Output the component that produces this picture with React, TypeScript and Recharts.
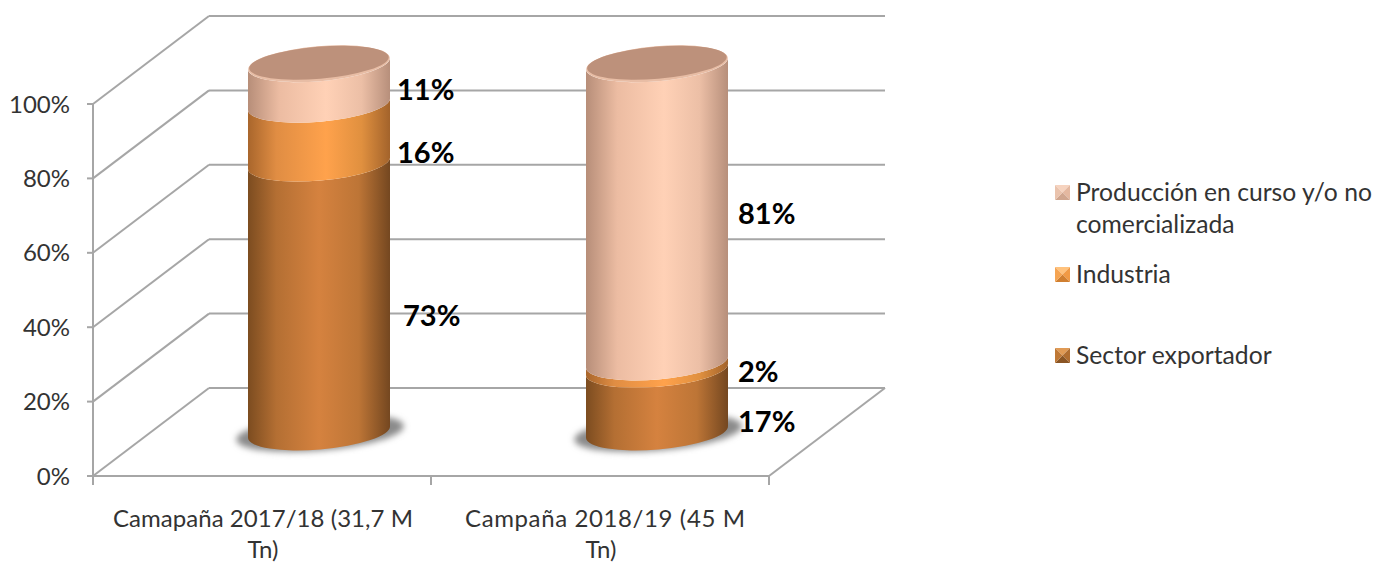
import {
  BarChart,
  Bar,
  XAxis,
  YAxis,
  CartesianGrid,
  Legend,
  LabelList,
} from "recharts";

const categories = ["Camapaña 2017/18 (31,7 M Tn)", "Campaña 2018/19 (45 M Tn)"];
const exportador = [73, 17];
const industria = [16, 2];
const produccion = [11, 81];
const yTicks = [0, 20, 40, 60, 80, 100];

const data = categories.map((name, i) => ({
  name,
  exportador: exportador[i],
  industria: industria[i],
  produccion: produccion[i],
}));

const W = 1389;
const H = 563;
const xAxisHeight = 60;
const margin = { top: 104, right: 620, bottom: 87 - xAxisHeight, left: 33 };
const plotBottom = H - 87;

// fake 3d: how far the back wall sits from the front plane
const wallX = 116;
const wallY = 88;
const depthX = 57;
const depthY = 44;
const cylScale = 0.99;
const tiltY = 6;
const ry = 17.5;

const axisGrey = "#a6a6a6";
const textGrey = "#333333";
const fontFamily = "Lato, sans-serif";

const cylY = (py: number) => plotBottom - depthY - (plotBottom - py) * cylScale;

function GridLine(props: any) {
  const { x1, y1, x2, y2 } = props;
  const isFloor = Math.abs(y1 - plotBottom) < 1;
  return (
    <g stroke={axisGrey} strokeWidth={2} fill="none">
      <line x1={x1 + wallX} y1={y1 - wallY} x2={x2 + wallX} y2={y2 - wallY} />
      <line x1={x1} y1={y1} x2={x1 + wallX} y2={y1 - wallY} />
      {isFloor && <line x1={x2} y1={y2} x2={x2 + wallX} y2={y2 - wallY} />}
    </g>
  );
}

function cylPath(cx: number, half: number, top: number, bottom: number) {
  const rx = Math.sqrt(half * half + tiltY * tiltY);
  const rot = (-Math.atan(tiltY / half) * 180) / Math.PI;
  return [
    `M${cx - half},${bottom + tiltY}`,
    `A${rx},${ry} ${rot} 0 0 ${cx + half},${bottom - tiltY}`,
    `L${cx + half},${top - tiltY}`,
    `A${rx},${ry} ${rot} 0 1 ${cx - half},${top + tiltY}`,
    "Z",
  ].join(" ");
}

function makeSegment(grad: string, opts: { base?: boolean; cap?: boolean }) {
  return function Segment(props: any) {
    const { x, y, width, height } = props;
    const half = width / 2;
    const cx = x + half + depthX;
    const top = cylY(y);
    const bottom = cylY(y + height);
    const rot = (-Math.atan(tiltY / half) * 180) / Math.PI;
    return (
      <g>
        {opts.base && (
          <ellipse
            cx={cx + 1}
            cy={bottom + 1}
            rx={half + 13}
            ry={ry}
            fill="#8a8a8a"
            filter="url(#soft)"
            transform={`rotate(${rot} ${cx} ${bottom})`}
          />
        )}
        <path d={cylPath(cx, half, top, bottom)} fill={`url(#${grad})`} />
        {opts.cap && (
          <g transform={`rotate(${rot} ${cx} ${top})`}>
            <ellipse cx={cx} cy={top} rx={half} ry={ry} fill="#e8bda5" />
            <ellipse cx={cx} cy={top - 1} rx={half - 1} ry={ry - 1.5} fill="#bd917b" />
          </g>
        )}
      </g>
    );
  };
}

const xLabelWidths = [300, 280];

function XTick(props: any) {
  const { x, payload, index, width } = props;
  const halfBand = width / categories.length / 2;
  const text: string = payload.value;
  const cut = text.lastIndexOf(" ");
  const shift = [1, 5][index];
  return (
    <g>
      <line x1={x - halfBand} y1={plotBottom} x2={x - halfBand} y2={plotBottom + 9} stroke={axisGrey} strokeWidth={2} />
      <line x1={x + halfBand} y1={plotBottom} x2={x + halfBand} y2={plotBottom + 9} stroke={axisGrey} strokeWidth={2} />
      <g fill={textGrey} fontSize={24} fontFamily={fontFamily} textAnchor="middle">
        <text x={x + shift} y={527} textLength={xLabelWidths[index]} lengthAdjust="spacing">
          {text.slice(0, cut)}
        </text>
        <text x={x + 1} y={558}>{text.slice(cut + 1)}</text>
      </g>
    </g>
  );
}

function makeLabel(key: string, nudges: [number, number][]) {
  return function SegmentLabel(props: any) {
    const { x, y, width, height, value, index } = props;
    const [dx, dy] = nudges[index];
    return (
      <text
        key={key + index}
        x={x + width + depthX + dx}
        y={y + height / 2 - depthY + dy}
        fill="#000"
        fontSize={29}
        fontWeight={700}
        fontFamily={fontFamily}
        dominantBaseline="central"
      >
        {value}%
      </text>
    );
  };
}

const legendRows = [
  { lines: ["Producción en curso y/o no", "comercializada"], top: 176, icon: ["#f6d3bf", "#e4b8a0", "#d0a68f", "#eac3ad"] },
  { lines: ["Industria"], top: 258, icon: ["#ffc27d", "#f19a45", "#d07f30", "#f5a452"] },
  { lines: ["Sector exportador"], top: 339, icon: ["#e09a55", "#b06d30", "#8a5524", "#bf7835"] },
];

function BevelIcon({ colors }: { colors: string[] }) {
  return (
    <svg width={15} height={15} style={{ position: "absolute", left: 1055, top: 0 }}>
      <polygon points="0,0 15,0 7.5,7.5" fill={colors[0]} />
      <polygon points="15,0 15,15 7.5,7.5" fill={colors[1]} />
      <polygon points="0,15 15,15 7.5,7.5" fill={colors[2]} />
      <polygon points="0,0 0,15 7.5,7.5" fill={colors[3]} />
    </svg>
  );
}

function LegendBox() {
  return (
    <div style={{ position: "absolute", left: 0, top: 0, width: 0, height: 0 }}>
      {legendRows.map((row) => (
        <div key={row.lines[0]} style={{ position: "absolute", left: 0, top: row.top, width: W }}>
          <div style={{ position: "absolute", left: 0, top: 9 }}>
            <BevelIcon colors={row.icon} />
          </div>
          {row.lines.map((line, i) => (
            <div
              key={line}
              style={{
                position: "absolute",
                left: 1076,
                top: i * 32,
                font: `24.7px ${fontFamily}`,
                lineHeight: "32px",
                color: textGrey,
                whiteSpace: "nowrap",
              }}
            >
              {line}
            </div>
          ))}
        </div>
      ))}
    </div>
  );
}

export default function App() {
  return (
    <div style={{ position: "absolute", left: 0, top: 0, width: W, height: H, background: "#fff" }}>
      <BarChart width={W} height={H} data={data} margin={margin} barCategoryGap={0} barSize={142}>
        <defs>
          <filter id="soft" x="-20%" y="-40%" width="140%" height="180%">
            <feGaussianBlur stdDeviation="3" />
          </filter>
          <linearGradient id="gradExp" x1="0" y1="0" x2="1" y2="0">
            <stop offset="0" stopColor="#7c4c20" />
            <stop offset="0.2" stopColor="#b46f33" />
            <stop offset="0.5" stopColor="#d5823f" />
            <stop offset="0.78" stopColor="#bd7536" />
            <stop offset="1" stopColor="#744720" />
          </linearGradient>
          <linearGradient id="gradInd" x1="0" y1="0" x2="1" y2="0">
            <stop offset="0" stopColor="#a9662c" />
            <stop offset="0.2" stopColor="#e08d43" />
            <stop offset="0.55" stopColor="#ffa24c" />
            <stop offset="0.8" stopColor="#e0903f" />
            <stop offset="1" stopColor="#a3632b" />
          </linearGradient>
          <linearGradient id="gradProd" x1="0" y1="0" x2="1" y2="0">
            <stop offset="0" stopColor="#b78e79" />
            <stop offset="0.22" stopColor="#ecbca2" />
            <stop offset="0.55" stopColor="#ffd1b6" />
            <stop offset="0.8" stopColor="#ecbfa6" />
            <stop offset="1" stopColor="#b78f7b" />
          </linearGradient>
        </defs>
        <CartesianGrid horizontal={GridLine} vertical={false} />
        <XAxis
          dataKey="name"
          axisLine={{ stroke: axisGrey, strokeWidth: 2 }}
          tickLine={false}
          tick={XTick}
          height={xAxisHeight}
          interval={0}
        />
        <YAxis
          width={60}
          domain={[0, 100]}
          ticks={yTicks}
          tickFormatter={(v: number) => `${v}%`}
          axisLine={{ stroke: axisGrey, strokeWidth: 2 }}
          tickLine={{ stroke: axisGrey, strokeWidth: 2 }}
          tickSize={6}
          tickMargin={17}
          tick={{ fill: textGrey, fontSize: 24, fontFamily }}
          interval={0}
        />
        <Legend layout="vertical" align="center" content={LegendBox} wrapperStyle={{ left: 0, top: 0, width: 0, height: 0 }} />
        <Bar
          dataKey="exportador"
          stackId="a"
          isAnimationActive={false}
          shape={makeSegment("gradExp", { base: true })}
        >
          <LabelList dataKey="exportador" content={makeLabel("e", [[13, 18], [10, 20]])} />
        </Bar>
        <Bar dataKey="industria" stackId="a" isAnimationActive={false} shape={makeSegment("gradInd", {})}>
          <LabelList dataKey="industria" content={makeLabel("i", [[7, 21], [10, 5]])} />
        </Bar>
        <Bar
          dataKey="produccion"
          stackId="a"
          isAnimationActive={false}
          shape={makeSegment("gradProd", { cap: true })}
        >
          <LabelList dataKey="produccion" content={makeLabel("p", [[7, 8], [10, 2]])} />
        </Bar>
      </BarChart>
    </div>
  );
}
